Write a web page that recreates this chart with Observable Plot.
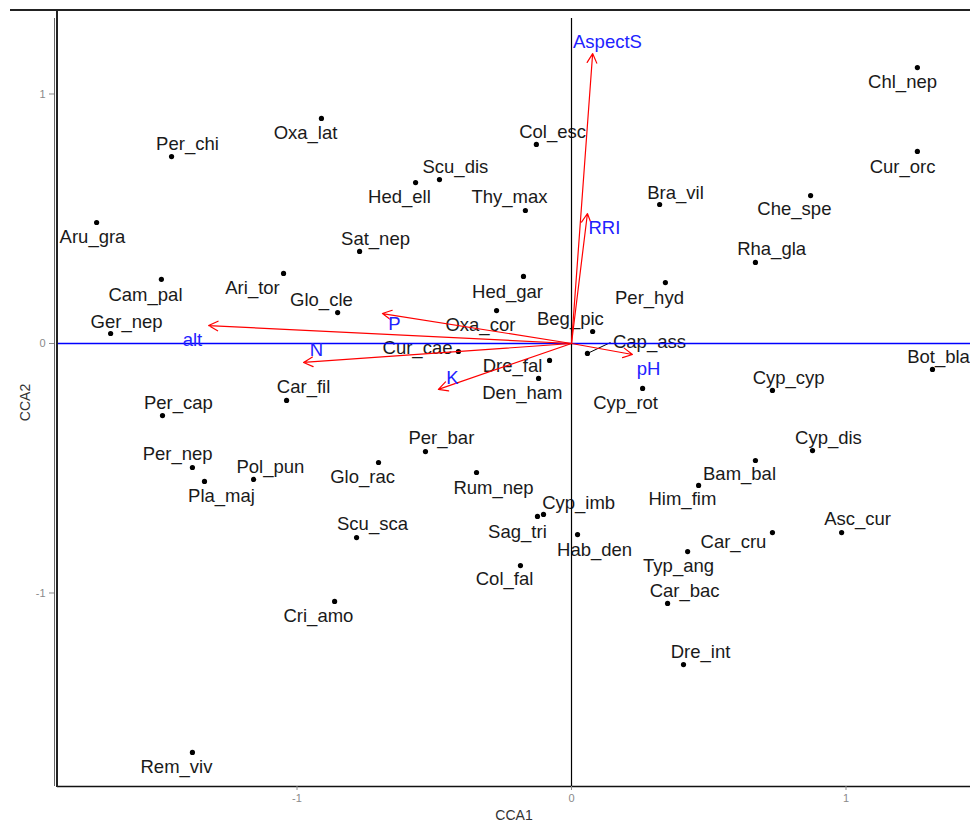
<!DOCTYPE html>
<html><head><meta charset="utf-8">
<script src="https://cdn.jsdelivr.net/npm/d3@7"></script>
<script src="https://cdn.jsdelivr.net/npm/@observablehq/plot@0.6"></script>
<style>
html,body{margin:0;padding:0;background:#fff;overflow:hidden;}
#wrap{position:relative;width:970px;height:827px;font-family:"Liberation Sans",Arial,sans-serif;}
#wrap svg{position:absolute;left:0;top:0;}
.deco{position:absolute;background:#222;}
</style></head><body>
<div id="wrap"></div>
<script>
// Species scores (CCA1, CCA2)
const species = ["Chl_nep","Cur_orc","Che_spe","Bra_vil","Rha_gla","Per_hyd","Bot_bla","Cyp_cyp","Cyp_dis","Bam_bal",
  "Him_fim","Asc_cur","Car_cru","Typ_ang","Car_bac","Dre_int","Hab_den","Col_fal","Sag_tri","Cyp_imb",
  "Scu_sca","Cri_amo","Rem_viv","Glo_rac","Per_bar","Rum_nep","Pol_pun","Per_nep","Pla_maj","Per_cap",
  "Car_fil","Ger_nep","Cam_pal","Ari_tor","Glo_cle","Aru_gra","Per_chi","Oxa_lat","Col_esc","Scu_dis",
  "Hed_ell","Thy_max","Sat_nep","Hed_gar","Oxa_cor","Beg_pic","Cap_ass","Cur_cae","Dre_fal","Den_ham","Cyp_rot"];
const cca1 = [1.260,1.260,0.871,0.321,0.670,0.342,1.315,0.732,0.878,0.670,
  0.463,0.984,0.732,0.423,0.350,0.408,0.022,-0.186,-0.124,-0.102,
  -0.783,-0.863,-1.381,-0.703,-0.532,-0.346,-1.158,-1.381,-1.337,-1.490,
  -1.038,-1.679,-1.494,-1.049,-0.852,-1.730,-1.457,-0.911,-0.128,-0.481,
  -0.568,-0.168,-0.772,-0.175,-0.273,0.077,0.058,-0.412,-0.080,-0.120,0.259];
const cca2 = [1.106,0.770,0.593,0.557,0.325,0.244,-0.104,-0.188,-0.429,-0.469,
  -0.569,-0.758,-0.758,-0.834,-1.042,-1.287,-0.766,-0.890,-0.693,-0.685,
  -0.778,-1.034,-1.639,-0.477,-0.433,-0.517,-0.545,-0.497,-0.553,-0.289,
  -0.228,0.040,0.257,0.281,0.124,0.485,0.749,0.902,0.798,0.657,
  0.645,0.533,0.369,0.269,0.132,0.048,-0.040,-0.032,-0.068,-0.140,-0.180];
// Repelled label anchors (data units)
const labelX = [1.206,1.206,0.812,0.379,0.729,0.284,1.337,0.791,0.936,0.612,
  0.404,1.042,0.590,0.390,0.412,0.470,0.084,-0.244,-0.197,0.026,
  -0.725,-0.922,-1.439,-0.761,-0.474,-0.284,-1.097,-1.435,-1.275,-1.432,
  -0.976,-1.621,-1.552,-1.162,-0.911,-1.745,-1.399,-0.969,-0.069,-0.423,
  -0.627,-0.226,-0.714,-0.233,-0.332,-0.004,0.284,-0.561,-0.215,-0.179,0.197];
const labelY = [1.046,0.709,0.537,0.601,0.377,0.184,-0.056,-0.140,-0.381,-0.525,
  -0.625,-0.705,-0.794,-0.894,-0.994,-1.238,-0.826,-0.946,-0.754,-0.641,
  -0.725,-1.094,-1.699,-0.537,-0.381,-0.581,-0.497,-0.445,-0.613,-0.240,
  -0.176,0.084,0.196,0.224,0.176,0.425,0.798,0.842,0.846,0.709,
  0.585,0.585,0.417,0.208,0.072,0.096,0.004,-0.020,-0.092,-0.200,-0.240];
// Leader segment end for Cap_ass label
const leaderSpecies = "Cap_ass";
const leaderEndX = 0.142, leaderEndY = 0.004;

// Environmental vectors
const envNames = ["AspectS","RRI","alt","N","P","K","pH"];
const envX = [0.077,0.058,-1.322,-0.976,-0.689,-0.485,0.222];
const envY = [1.162,0.521,0.072,-0.076,0.120,-0.184,-0.044];
const envLabelX = [0.131,0.120,-1.381,-0.929,-0.645,-0.434,0.281];
const envLabelY = [1.210,0.461,0.012,-0.028,0.076,-0.140,-0.104];

const xTicks = [-1,0,1];
const yTicks = [-1,0,1];
const xDomain = [-1.8725, 1.4535];
const yDomain = [-1.7756, 1.3026];

const sp = species.map((s,i)=>({name:s,x:cca1[i],y:cca2[i],lx:labelX[i],ly:labelY[i]}));
const env = envNames.map((n,i)=>({name:n,x:envX[i],y:envY[i],lx:envLabelX[i],ly:envLabelY[i]}));
const li = species.indexOf(leaderSpecies);
const leader = [{x1:cca1[li],y1:cca2[li],x2:leaderEndX,y2:leaderEndY}];
const fmt = d => String(d);

const chart = Plot.plot({
  width:970, height:827,
  marginLeft:57, marginRight:0, marginTop:18, marginBottom:41,
  x:{domain:xDomain},
  y:{domain:yDomain},
  style:{fontFamily:"'Liberation Sans', Arial, sans-serif", background:"transparent"},
  marks:[
    Plot.ruleX([xDomain[0]], {dx:-3, stroke:"#666", strokeWidth:1}),
    Plot.ruleY([yDomain[0]], {stroke:"#111", strokeWidth:1.6}),
    Plot.axisX(xTicks, {tickSize:4, tickPadding:4, fontSize:11, color:"#8a8a8a", label:null, tickFormat:fmt}),
    Plot.axisY(yTicks, {dx:-3, tickSize:5, tickPadding:4, fontSize:11, color:"#8a8a8a", label:null, tickFormat:fmt}),
    Plot.text(["CCA1"], {frameAnchor:"bottom", dy:29, fontSize:14, fill:"#333", textAnchor:"middle", lineAnchor:"middle"}),
    Plot.text(["CCA2"], {frameAnchor:"left", dx:-32, rotate:-90, fontSize:14, fill:"#333", textAnchor:"middle", lineAnchor:"middle"}),
    Plot.dot(sp, {x:"x", y:"y", r:2.6, fill:"#000", stroke:null}),
    Plot.text(sp, {x:"lx", y:"ly", text:"name", fontSize:18.5, fill:"#1a1a1a"}),
    Plot.link(leader, {x1:"x1", y1:"y1", x2:"x2", y2:"y2", stroke:"#000", strokeWidth:1}),
    Plot.ruleY([0], {stroke:"#0000ff", strokeWidth:1.3}),
    Plot.ruleX([0], {stroke:"#000", strokeWidth:1.2}),
    Plot.arrow(env, {x1:()=>0, y1:()=>0, x2:"x", y2:"y", stroke:"#ff0000", strokeWidth:1.2, headLength:13, headAngle:55}),
    Plot.text(env, {x:"lx", y:"ly", text:"name", fontSize:18.5, fill:"#2222ff"})
  ]
});
const wrap = document.getElementById("wrap");
wrap.appendChild(chart);
for (const s of ["left:10px;top:9px;width:960px;height:2px","left:56px;top:9px;width:2px;height:778px"]) {
  const d = document.createElement("div"); d.className = "deco"; d.style.cssText = s; wrap.appendChild(d);
}
</script>
</body></html>
